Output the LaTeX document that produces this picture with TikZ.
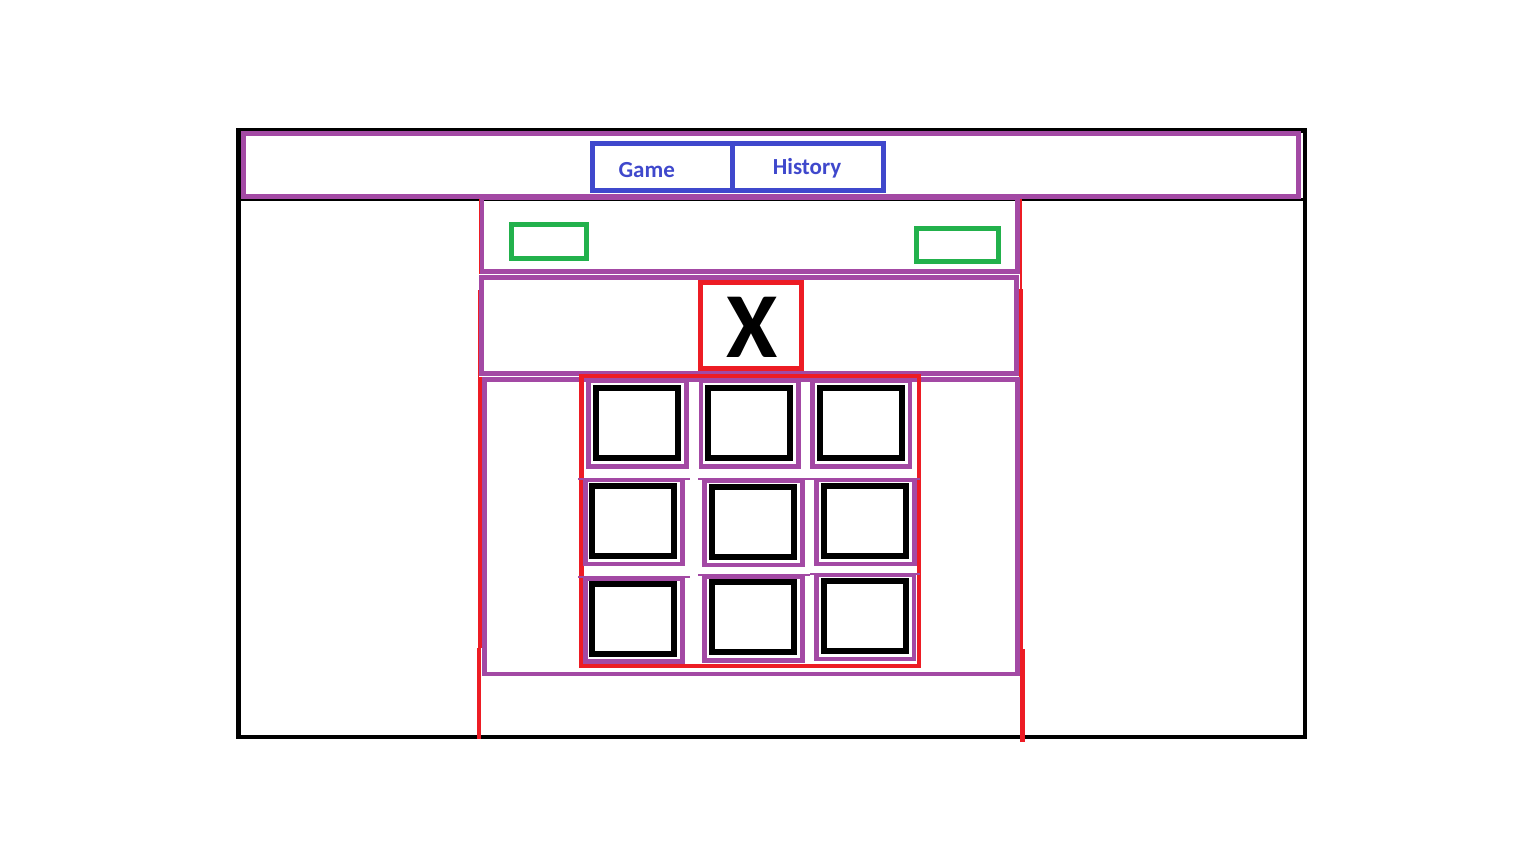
\documentclass[tikz,border=0pt]{standalone}
\usepackage{fontspec}
\newfontfamily\carl{Carlito}
\definecolor{ppl}{HTML}{A349A4}
\definecolor{rd}{HTML}{ED1C24}
\definecolor{grn}{HTML}{22B14C}
\definecolor{blu}{HTML}{3F48CC}
\tikzset{
  blk/.style={draw=black,line width=4pt},
  pbox/.style={draw=ppl,line width=4.6pt},
  pthin/.style={draw=ppl,line width=2.2pt},
  rbox/.style={draw=rd,line width=4.5pt},
  gbox/.style={draw=grn,line width=5pt},
  bbox/.style={draw=blu,line width=5pt},
  cellin/.style={draw=black,line width=6pt},
  tabtxt/.style={text=blu,font=\carl\bfseries\fontsize{23}{23}\selectfont,anchor=base,inner sep=0pt},
}
\begin{document}
\begin{tikzpicture}[x=1pt,y=-1pt]
\useasboundingbox (0,0) rectangle (1536,864);
% outer frame
\draw[blk,line width=4.5pt] (238.5,130.5) rectangle (1305,737);
\draw[draw=black,line width=3pt] (238.5,199.5) -- (1305,199.5);
% header
\draw[pbox] (243.5,133.5) rectangle (1298.5,196.5);
\draw[bbox] (592.5,143.5) rectangle (883.5,190);
\draw[bbox] (732.5,143.5) -- (732.5,190);
\node[tabtxt] (game) at (646.7,177.3) {Game};
\node[tabtxt] (hist) at (807,174.3) {History};
% red side lines
\draw[draw=rd,line width=1.5pt] (479.3,199) -- (479.3,274);
\draw[draw=rd,line width=1.5pt] (478.3,290) -- (478.3,377);
\draw[draw=rd,line width=4.6pt] (480,377) -- (480,648);
\draw[draw=rd,line width=4pt] (478.7,648) -- (478.7,739);
\draw[draw=rd,line width=2pt] (1021,199) -- (1021,289);
\draw[draw=rd,line width=4pt] (1021.3,289) -- (1021.3,649);
\draw[draw=rd,line width=4.6pt] (1022.3,649) -- (1022.3,741.5);
% panel 1
\draw[pbox] (482,198) rectangle (1017.5,271.5);
\draw[gbox] (511.5,224.8) rectangle (586.5,258.7);
\draw[gbox] (916.7,228.5) rectangle (998.3,261.5);
% panel 2
\draw[pbox] (481.5,277.5) rectangle (1016.5,373.5);
\draw[rbox] (700.5,282.5) rectangle (801.5,368.5);
\node[inner sep=0pt,anchor=base,font=\carl\bfseries\fontsize{93}{93}\selectfont] (mark) at (751.7,357.3) {X};
% panel 3
\draw[pbox] (484.7,379.3) rectangle (1017.5,674);
\draw[rbox] (581.5,376) rectangle (919,666);
% row 1
\draw[pbox] (588.5,381) rectangle (686.5,466.5);
\draw[cellin] (595.7,388) rectangle (678,458);
\draw[pbox] (701,381) rectangle (798.3,466.3);
\draw[cellin] (708,388) rectangle (790.3,458);
\draw[pbox] (812.5,381) rectangle (910,466.3);
\draw[cellin] (819.7,388) rectangle (902,458);
% row 2
\draw[pthin] (578,478.7) -- (690,478.7);
\draw[pthin] (698,479.3) -- (810,479.3);
\draw[pthin] (810,479) -- (920,479);
\draw[pbox] (585.5,480) rectangle (682.5,564);
\draw[cellin] (592,486) rectangle (674,556);
\draw[pbox] (704.5,481) rectangle (802.5,565);
\draw[cellin] (712,487) rectangle (794,557);
\draw[pbox] (816.3,480) rectangle (914.5,564);
\draw[cellin] (824,485.7) rectangle (906,555.5);
% row 3
\draw[pthin] (578,576.8) -- (690,576.8);
\draw[pthin] (698,575) -- (810,575);
\draw[pthin] (810,573.7) -- (920,573.7);
\draw[pbox] (585.5,578.5) rectangle (682.5,661.5);
\draw[cellin] (592,584) rectangle (674,654);
\draw[pbox] (704.5,577) rectangle (802.5,660.7);
\draw[cellin] (712,582) rectangle (794,652);
\draw[pbox] (816.5,575) rectangle (914,659);
\draw[cellin] (824,580.7) rectangle (906.3,650.7);
\end{tikzpicture}
\end{document}
